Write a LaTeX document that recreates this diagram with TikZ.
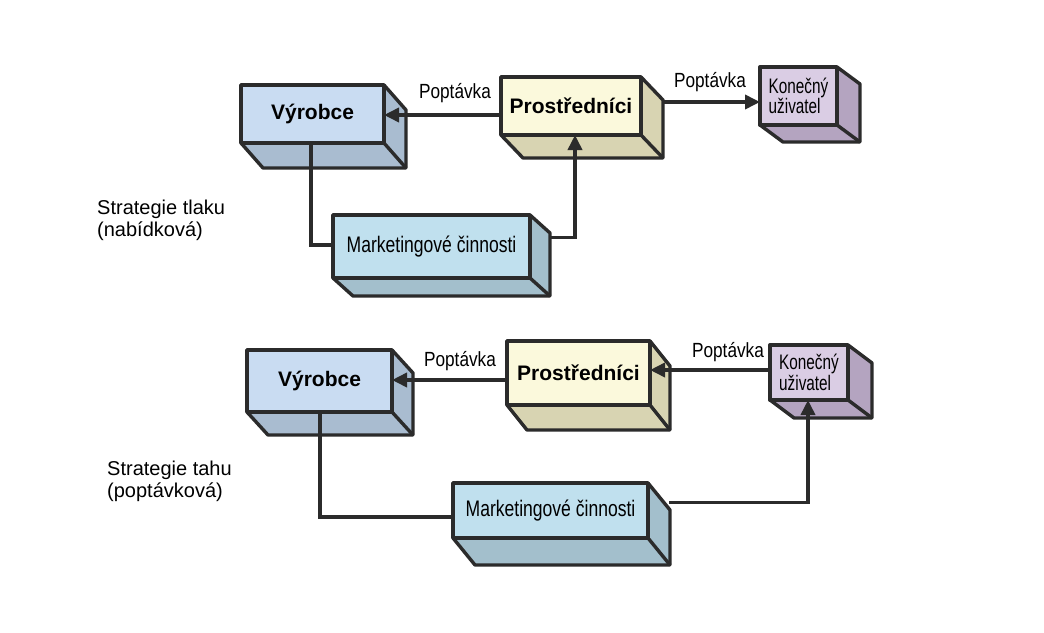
\documentclass[tikz,border=0pt]{standalone}
\usepackage{fontspec}
\setmainfont{Liberation Sans}
\newfontfamily\condfont[FakeStretch=0.84]{Liberation Sans}
\newfontfamily\mktcond[FakeStretch=0.78]{Liberation Sans}
\newfontfamily\narrowfont[FakeStretch=0.73]{Liberation Sans}
\usetikzlibrary{arrows.meta}
\definecolor{edgec}{HTML}{2B2B2B}
\definecolor{bluF}{HTML}{C9DCF2}
\definecolor{bluS}{HTML}{A9BCD0}
\definecolor{yelF}{HTML}{FBF9DC}
\definecolor{yelS}{HTML}{D8D4B2}
\definecolor{lavF}{HTML}{DACDE4}
\definecolor{lavS}{HTML}{B4A4C0}
\definecolor{cyaF}{HTML}{C0E0EE}
\definecolor{cyaS}{HTML}{A3BFCC}
\newcommand\bigboxfont{\fontsize{21}{24}\selectfont\bfseries}
\newcommand\mktfont{\mktcond\fontsize{22.5}{24}\selectfont}
\newcommand\usrfont{\narrowfont\fontsize{21}{19}\selectfont}
\newcommand\lblfont{\condfont\fontsize{20.5}{22}\selectfont}
\newcommand\stratfont{\fontsize{20}{22}\selectfont}
\tikzset{
  edge/.style={draw=edgec, line width=3.4pt, line join=round},
  frontface/.style={edge, inner sep=0pt, outer sep=0pt, text=black, align=left},
  conn/.style={draw=edgec, line width=3.6pt},
  arr/.style={conn, -{Triangle[length=15pt,width=14pt]}},
  lbl/.style={font=\lblfont, inner sep=0pt},
  strat/.style={font=\stratfont, align=left, anchor=west, inner sep=0pt}
}
% #1 name, #2 x1, #3 y1, #4 x2, #5 y2, #6 dx, #7 dy, #8 colour scheme, #9 text
\newcommand\cubebox[9]{%
  \filldraw[edge, fill=#8S] (#2,#5) -- ++(#6,#7) -- ({#4+#6},{#5+#7}) -- ({#4+#6},{#3+#7}) -- (#4,#3) -- cycle;
  \draw[edge] (#4,#5) -- ++(#6,#7);
  \node[frontface, fill=#8F, minimum width={(#4-#2)*1pt}, minimum height={(#5-#3)*1pt}]
    (#1) at ({(#2+#4)/2},{(#3+#5)/2}) {#9};
}
\begin{document}
\begin{tikzpicture}[x=1pt, y=-1pt]
\fill[white] (0,0) rectangle (1044,632);
\useasboundingbox (0,0) rectangle (1044,632);

% ---- top: Strategie tlaku ----
\cubebox{v1}{241}{85}{384}{143}{22}{25}{blu}{\bigboxfont Výrobce}
\cubebox{p1}{501}{77}{641}{135}{22}{23}{yel}{\bigboxfont Prostředníci}
\cubebox{k1}{760}{67}{837}{125}{23}{17}{lav}{\usrfont Konečný\\\usrfont uživatel}
\cubebox{m1}{333}{215}{530}{278}{20}{18}{cya}{\mktfont Marketingové činnosti}

\node[strat] (s1) at (97,220) {Strategie tlaku\\(nabídková)};

\draw[arr] (p1.west |- 0,115) -- (v1.east |- 0,115);
\node[lbl] (l1) at (455,93) {Poptávka};
\draw[arr] ([xshift=22pt]p1.east |- 0,102) -- (k1.west |- 0,102);
\node[lbl] (l2) at (710,82) {Poptávka};
\draw[conn] (v1.south -| 311,0) |- (m1.west |- 0,245);
\draw[arr] ([xshift=19pt,yshift=9pt]m1.east) -| (p1.south -| 575,0);

% ---- bottom: Strategie tahu ----
\cubebox{v2}{247}{350}{392}{412}{21}{23}{blu}{\bigboxfont Výrobce}
\cubebox{p2}{507}{341}{650}{405}{20}{25}{yel}{\bigboxfont Prostředníci}
\cubebox{k2}{770}{345}{848}{400}{24}{18}{lav}{\usrfont Konečný\\\usrfont uživatel}
\cubebox{m2}{453}{483}{648}{538}{22}{27}{cya}{\mktfont Marketingové činnosti}

\node[strat] (s2) at (107,481) {Strategie tahu\\(poptávková)};

\draw[arr] (p2.west |- 0,380) -- (v2.east |- 0,380);
\node[lbl] (l3) at (460,361) {Poptávka};
\draw[arr] (k2.west |- 0,370) -- (p2.east |- 0,370);
\node[lbl] (l4) at (728,352) {Poptávka};
\draw[conn] (v2.south -| 320,0) |- (m2.west |- 0,517);
\draw[arr] ([xshift=21pt,yshift=8pt]m2.east) -| (k2.south -| 808,0);
\end{tikzpicture}
\end{document}
